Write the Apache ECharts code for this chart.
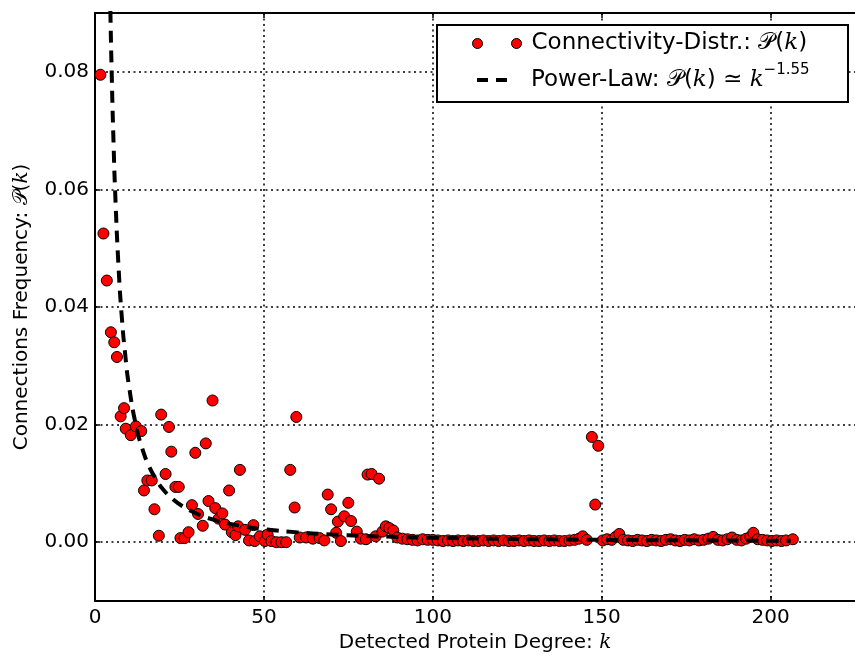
<!DOCTYPE html>
<html>
<head>
<meta charset="utf-8">
<script src="https://cdn.jsdelivr.net/npm/echarts@6/dist/echarts.min.js"></script>
<style>html,body{margin:0;padding:0;background:#fff;}#c{width:855px;height:658px;}</style>
</head>
<body>
<div id="c"></div>
<script>
// Connectivity distribution (degree k, frequency P(k))
var kMain = [1.6,2.5,3.5,4.7,5.7,6.5,7.6,8.6,9.1,10.6,12.1,13.7,14.5,15.5,16.8,17.6,18.9,19.6,20.9,21.9,22.6,23.8,24.8,25.3,26.5,27.7,28.7,29.7,30.5,31.9,32.8,33.6,34.8,35.6,36.6,37.7,38.5,39.7,40.5,41.6,42.4,42.9,44.4,45.6,46.9,47.3,48.8,50.3,51.1,52.2,53.7,55.2,56.6,57.8,59.1,59.6,60.6,62.5,64.5,66.5,67.9,68.9,69.9,71.4,71.9,72.8,73.8,75,75.8,77.5,78.7,80.2,80.7,81.9,83.1,84.1,85.1,86.1,87.1,88.3,89.5,91,92.5,94,95.5,97,98.5,100];
var pMain = [0.0795,0.0525,0.0445,0.0357,0.034,0.0315,0.0214,0.0228,0.0193,0.0182,0.0197,0.0189,0.0088,0.0105,0.0105,0.0056,0.0011,0.0217,0.0116,0.0196,0.0154,0.0094,0.0094,0.0007,0.0007,0.0017,0.0063,0.0152,0.0048,0.0028,0.0168,0.0070,0.0241,0.0058,0.0040,0.0049,0.0030,0.0088,0.0017,0.0012,0.0027,0.0123,0.0021,0.0003,0.0029,0.0002,0.0010,0.0002,0.0013,0.0002,0,0,0,0.0123,0.0059,0.0213,0.0008,0.0008,0.0006,0.0007,0.0003,0.0081,0.0056,0.0016,0.0035,0.0002,0.0044,0.0067,0.0036,0.0018,0.0006,0.0005,0.0115,0.0116,0.0010,0.0108,0.0018,0.0027,0.0024,0.0020,0.0008,0.0006,0.0005,0.0004,0.0003,0.0005,0.0004,0.0004];
var kTail = [101.5,103,104.5,106,107.5,109,110.5,112,113.5,115,116.5,118,119.5,121,122.5,124,125.5,127,128.5,130,131.5,133,134.5,136,137.5,139,140.5,142,143.3,144.4,145.6,147.1,148.1,149,150.3,151.6,153,154.1,155.2,156.4,157.8,159.2,160.6,162,163.4,164.8,166.2,167.6,169,170.4,171.8,173.2,174.6,176,177.4,178.8,180.2,181.6,183,184.4,185.8,187.2,188.6,190,191.4,192.8,194,194.9,196.2,197.6,199,200.4,201.8,203.2,204.6,206.6];
var pTail = [0.0003,0.0002,0.0003,0.0002,0.0003,0.0002,0.0003,0.0002,0.0002,0.0003,0.0002,0.0003,0.0002,0.0003,0.0002,0.0002,0.0003,0.0002,0.0003,0.0002,0.0002,0.0003,0.0002,0.0003,0.0002,0.0002,0.0003,0.0004,0.0006,0.0010,0.0004,0.0179,0.0064,0.0164,0.0003,0.0005,0.0004,0.0009,0.0014,0.0004,0.0003,0.0002,0.0004,0.0003,0.0002,0.0004,0.0003,0.0002,0.0004,0.0005,0.0003,0.0002,0.0004,0.0003,0.0005,0.0003,0.0004,0.0006,0.0009,0.0004,0.0003,0.0005,0.0008,0.0004,0.0003,0.0006,0.0009,0.0016,0.0005,0.0004,0.0003,0.0002,0.0003,0.0002,0.0003,0.0005];
// Power-law fit curve
var fitK = [4,4.5,5,5.5,6,7,8,9,10,12,14,16,18,20,23,26,30,35,40,45,50,60,70,80,90,100,120,140,160,180,206];
var fitP = [0.1108,0.0922,0.0784,0.0677,0.0591,0.0465,0.0378,0.0316,0.0268,0.0202,0.0159,0.0129,0.0108,0.0091,0.00736,0.00609,0.00488,0.00384,0.00312,0.0026,0.0022,0.00167,0.00131,0.00107,0.00089,0.00075,0.00057,0.00045,0.00036,0.0003,0.00025];
// Axis ticks
var xTicks = [0,50,100,150,200];
var yTicks = [0,0.02,0.04,0.06,0.08];

var allK = kMain.concat(kTail), allP = pMain.concat(pTail);
var scatterData = allK.map(function(k,i){return [k, allP[i]];});
var fitData = fitK.map(function(k,i){return [k, fitP[i]];});

var FONT = 'DejaVu Sans';
var chart = echarts.init(document.getElementById('c'), null, {renderer:'canvas'});
var splitStyle = {show:true, lineStyle:{color:'#000', width:1.5, type:[2,3.5]}};
chart.setOption({
  animation:false,
  backgroundColor:'#fff',
  grid:{left:95, top:13, right:-6, bottom:51, containLabel:false},
  xAxis:[{
    type:'value', min:0, max:225, position:'bottom',
    axisLine:{show:true, onZero:false, lineStyle:{color:'#000', width:2}},
    axisTick:{show:true, inside:true, length:5, customValues:xTicks, lineStyle:{color:'#000', width:1.5}},
    axisLabel:{show:true, customValues:xTicks, margin:7, color:'#000', fontFamily:FONT, fontSize:20},
    splitLine:splitStyle,
    name:'Detected Protein Degree: {i|k}',
    nameLocation:'middle', nameGap:32,
    nameTextStyle:{color:'#000', fontFamily:FONT, fontSize:20,
      rich:{i:{fontFamily:'DejaVu Serif', fontStyle:'italic', fontSize:20, color:'#000'}}}
  },{
    type:'value', min:0, max:225, position:'top',
    axisLine:{show:true, onZero:false, lineStyle:{color:'#000', width:2}},
    axisTick:{show:true, inside:true, length:5, customValues:xTicks, lineStyle:{color:'#000', width:1.5}},
    axisLabel:{show:false}, splitLine:{show:false}
  }],
  yAxis:{
    type:'value', min:-0.01, max:0.09,
    axisLine:{show:true, onZero:false, lineStyle:{color:'#000', width:2}},
    axisTick:{show:true, inside:true, length:5, customValues:yTicks, lineStyle:{color:'#000', width:1.5}},
    axisLabel:{show:true, customValues:yTicks, margin:6, color:'#000', fontFamily:FONT, fontSize:20,
      formatter:function(v){return v.toFixed(2);}},
    splitLine:splitStyle,
    name:'Connections Frequency: 𝒫({i|k})',
    nameLocation:'middle', nameGap:63, nameRotate:90,
    nameTextStyle:{color:'#000', fontFamily:FONT, fontSize:20,
      rich:{i:{fontFamily:'DejaVu Serif', fontStyle:'italic', fontSize:20, color:'#000'}}}
  },
  legend:[{
    data:[{name:'Connectivity-Distr.: 𝒫({i|k})', icon:'path://M0,5a5,5 0 1,0 10,0a5,5 0 1,0 -10,0z M39,5a5,5 0 1,0 10,0a5,5 0 1,0 -10,0z'}],
    left:472, top:32, padding:0, itemWidth:49, itemHeight:10,
    itemStyle:{color:'#ff0000', borderColor:'#000', borderWidth:1},
    textStyle:{color:'#000', fontFamily:FONT, fontSize:23, padding:[0,0,0,5],
      rich:{i:{fontFamily:'DejaVu Serif', fontStyle:'italic', fontSize:23, color:'#000'}}},
    selectedMode:false
  },{
    data:[{name:'Power-Law: 𝒫({i|k}) ≃ {i|k}{sup|−1.55}', icon:'path://M0,0h11v4h-11z M19,0h11v4h-11z'}],
    left:477, top:63, padding:0, itemWidth:30, itemHeight:4,
    itemStyle:{color:'#000', borderWidth:0},
    textStyle:{color:'#000', fontFamily:FONT, fontSize:23, lineHeight:34, padding:[0,0,0,19],
      rich:{
        i:{fontFamily:'DejaVu Serif', fontStyle:'italic', fontSize:23, lineHeight:34, color:'#000'},
        sup:{fontFamily:FONT, fontSize:15, lineHeight:14, verticalAlign:'top', color:'#000'}
      }},
    selectedMode:false
  }],
  graphic:[{
    type:'rect', z:3, shape:{x:437, y:25, width:411, height:77},
    style:{fill:'#fff', stroke:'#000', lineWidth:2}
  }],
  series:[{
    name:'Connectivity-Distr.: 𝒫({i|k})',
    type:'scatter', data:scatterData, symbol:'circle', symbolSize:11, z:2,
    itemStyle:{color:'#ff0000', borderColor:'#000', borderWidth:1, opacity:1}
  },{
    name:'Power-Law: 𝒫({i|k}) ≃ {i|k}{sup|−1.55}',
    type:'line', data:fitData, showSymbol:false, symbol:'none', smooth:true, clip:true, z:2.5,
    itemStyle:{color:'#000'},
    lineStyle:{color:'#000', width:4, type:[12,8], cap:'butt'}
  }]
});
</script>
</body>
</html>
